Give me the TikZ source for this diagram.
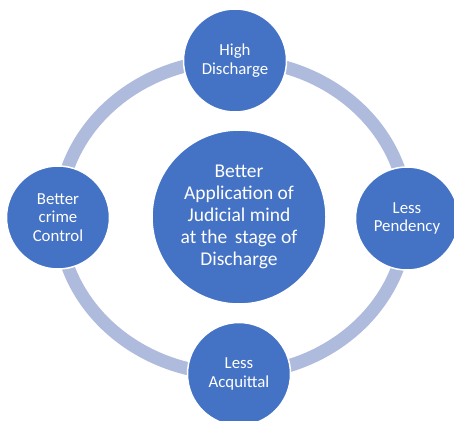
\documentclass[tikz,border=0pt]{standalone}
\usepackage{fontspec}
\setmainfont{Carlito}
\usetikzlibrary{backgrounds}

\definecolor{bubble}{HTML}{4472C4}
\definecolor{ringblue}{HTML}{AEBBDD}

\begin{document}
\begin{tikzpicture}[x=1pt, y=-1pt,
  small/.style={circle, fill=bubble, draw=white, line width=1.5pt, minimum size=103pt,
    text=white, align=center, font=\fontsize{16.8}{18.5}\selectfont},
  big/.style={circle, fill=bubble, draw=white, line width=1.5pt, minimum size=174pt,
    text=white, align=center, font=\fontsize{19.5}{22}\selectfont}]
\useasboundingbox (0,0) rectangle (454,420);
\node [big] (hub) at (239,217) {Better\\Application of\\Judicial mind\\at the\, stage of\\Discharge};
\node [small] (top) at (235,60.5) {High\\Discharge};
\node [small] (right) at (407,218.5) {Less\\Pendency};
\node [small] (bottom) at (239,374) {Less\\Acquittal};
\node [small] (left) at (58,217.5) {Better\\crime\\Control};
% ring behind the outer circles
\begin{scope}[on background layer]
\draw [ringblue, line width=13pt] (233,217) ellipse [x radius=174, y radius=157];
\end{scope}
\end{tikzpicture}
\end{document}
